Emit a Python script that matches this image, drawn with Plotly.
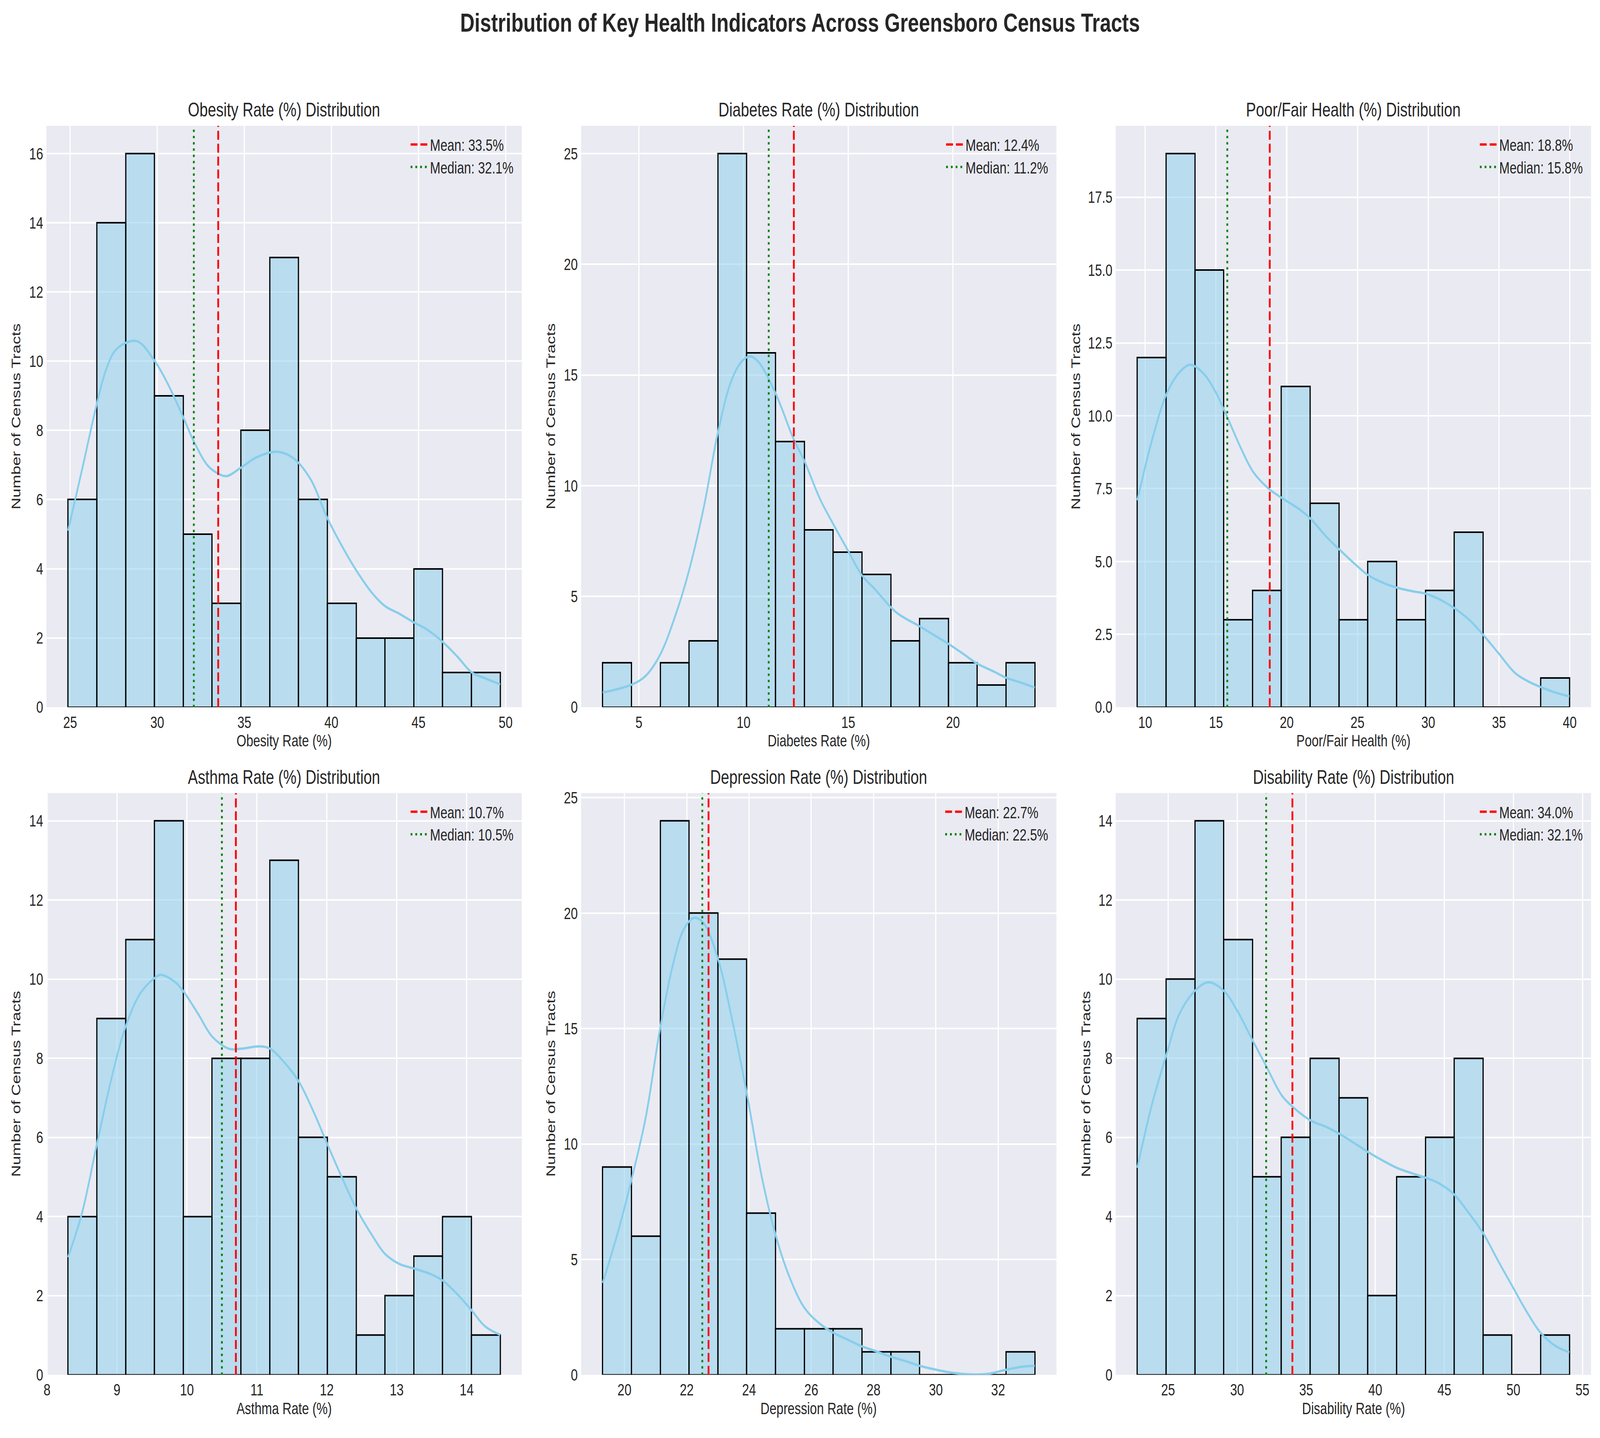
import numpy as np
import plotly.graph_objects as go

# ---------------- data ----------------
indicators = ["Obesity Rate (%)", "Diabetes Rate (%)", "Poor/Fair Health (%)",
              "Asthma Rate (%)", "Depression Rate (%)", "Disability Rate (%)"]

# data min / max (histogram range, 15 bins each)
obesity_range = [24.88, 49.69]
diabetes_range = [3.27, 23.91]
poorfair_range = [9.44, 39.98]
asthma_range = [8.30, 14.48]
depression_range = [19.30, 33.18]
disability_range = [22.77, 54.06]

obesity_counts = [6, 14, 16, 9, 5, 3, 8, 13, 6, 3, 2, 2, 4, 1, 1]
diabetes_counts = [2, 0, 2, 3, 25, 16, 12, 8, 7, 6, 3, 4, 2, 1, 2]
poorfair_counts = [12, 19, 15, 3, 4, 11, 7, 3, 5, 3, 4, 6, 0, 0, 1]
asthma_counts = [4, 9, 11, 14, 4, 8, 8, 13, 6, 5, 1, 2, 3, 4, 1]
depression_counts = [9, 6, 24, 20, 18, 7, 2, 2, 2, 1, 1, 0, 0, 0, 1]
disability_counts = [9, 10, 14, 11, 5, 6, 8, 7, 2, 5, 6, 8, 1, 0, 1]

means = [33.5, 12.4, 18.8, 10.7, 22.7, 34.0]
medians = [32.1, 11.2, 15.8, 10.5, 22.5, 32.1]

# KDE curves (scaled to counts)
obesity_kde_x = [24.88, 25.7, 26.5, 27.06, 27.65, 28.82, 29.86, 30.6, 31.5, 32.1, 32.9, 33.5, 34.0,
                 34.8, 35.7, 36.9, 37.8, 38.8, 39.76, 40.8, 41.43, 42.35, 43.08, 43.9, 44.7, 45.5,
                 46.4, 47.25, 48.04, 48.8, 49.69]
obesity_kde_y = [5.1, 6.9, 8.7, 9.75, 10.34, 10.58, 10.0, 9.35, 8.37, 7.68, 6.98, 6.75, 6.68,
                 6.92, 7.22, 7.38, 7.2, 6.59, 5.47, 4.48, 3.95, 3.29, 2.92, 2.70, 2.46, 2.24,
                 1.88, 1.45, 1.01, 0.84, 0.66]

diabetes_kde_x = [3.27, 4.66, 5.33, 6.03, 6.8, 7.4, 8.1, 8.78, 9.4, 9.9, 10.3, 10.7, 11.54, 12.37,
                  12.91, 13.65, 14.28, 14.95, 15.65, 16.26, 17.28, 18.41, 19.19, 19.78, 20.5,
                  21.15, 21.97, 22.54, 23.27, 23.91]
diabetes_kde_y = [0.66, 1.02, 1.42, 2.40, 4.30, 6.19, 9.03, 12.43, 14.7, 15.6, 15.84, 15.6, 14.14,
                  12.15, 11.1, 9.4, 8.27, 7.13, 5.96, 5.34, 4.29, 3.65, 3.2, 2.86, 2.4, 1.97,
                  1.6, 1.33, 1.1, 0.89]

poorfair_kde_x = [9.44, 10.48, 11.5, 12.42, 13.19, 14.1, 14.98, 15.8, 16.78, 17.62, 18.7, 19.65,
                  20.9, 21.7, 22.8, 23.7, 24.8, 25.75, 26.8, 27.8, 28.87, 29.84, 30.8, 31.84,
                  33.0, 33.9, 34.97, 36.12, 37.0, 38.0, 39.0, 39.98]
poorfair_kde_y = [7.10, 9.16, 10.74, 11.49, 11.75, 11.46, 10.81, 9.95, 8.87, 8.08, 7.51, 7.18,
                  6.79, 6.46, 5.85, 5.42, 4.92, 4.53, 4.27, 4.10, 3.98, 3.89, 3.7, 3.40,
                  2.95, 2.47, 1.85, 1.18, 0.9, 0.68, 0.50, 0.37]

asthma_kde_x = [8.30, 8.50, 8.71, 8.94, 9.12, 9.33, 9.54, 9.62, 9.82, 9.95, 10.16, 10.36, 10.6,
                10.77, 11.04, 11.19, 11.38, 11.6, 11.82, 12.0, 12.21, 12.42, 12.65, 12.83, 13.04,
                13.24, 13.48, 13.66, 13.87, 14.07, 14.26, 14.48]
asthma_kde_y = [2.97, 4.09, 5.81, 7.63, 8.78, 9.63, 10.03, 10.11, 9.94, 9.69, 9.12, 8.55, 8.24,
                8.24, 8.30, 8.24, 7.92, 7.41, 6.61, 5.86, 5.01, 4.21, 3.52, 3.06, 2.80,
                2.69, 2.55, 2.38, 2.03, 1.63, 1.23, 1.01]

depression_kde_x = [19.30, 19.8, 20.23, 20.68, 21.15, 21.56, 21.89, 22.22, 22.55, 23.01, 23.42,
                    23.94, 24.41, 24.86, 25.29, 25.78, 26.28, 26.71, 27.16, 27.63, 28.04, 28.56,
                    29.13, 29.48, 30.01, 30.56, 31.1, 31.67, 32.26, 32.76, 33.18]
depression_kde_y = [3.98, 6.23, 8.48, 11.13, 15.05, 17.79, 19.26, 19.79, 19.55, 17.99, 15.63,
                    12.11, 8.58, 6.03, 4.27, 2.90, 2.21, 1.82, 1.53, 1.23, 1.04, 0.78,
                    0.55, 0.39, 0.22, 0.08, 0.02, 0.04, 0.22, 0.35, 0.39]

disability_kde_x = [22.77, 23.83, 24.88, 25.82, 26.96, 27.93, 29.07, 30.04, 31.15, 32.09, 33.23,
                    34.0, 35.31, 36.48, 37.4, 38.46, 39.48, 40.57, 41.56, 42.68, 43.65, 44.66,
                    45.73, 46.77, 47.81, 48.88, 49.89, 50.99, 51.98, 53.09, 54.06]
disability_kde_y = [5.23, 6.83, 8.09, 9.12, 9.71, 9.92, 9.69, 9.18, 8.43, 7.81, 7.06,
                    6.78, 6.43, 6.26, 6.09, 5.86, 5.63, 5.41, 5.23, 5.09, 4.98, 4.83,
                    4.55, 4.09, 3.58, 2.89, 2.26, 1.58, 1.06, 0.72, 0.57]

x_tick_steps = [5, 5, 5, 1, 2, 5]
y_tick_steps = [2, 5, 2.5, 2, 5, 2]
y_tick_formats = ["d", "d", ".1f", "d", "d", "d"]

ranges = [obesity_range, diabetes_range, poorfair_range, asthma_range, depression_range, disability_range]
counts = [obesity_counts, diabetes_counts, poorfair_counts, asthma_counts, depression_counts, disability_counts]
kde_x = [obesity_kde_x, diabetes_kde_x, poorfair_kde_x, asthma_kde_x, depression_kde_x, disability_kde_x]
kde_y = [obesity_kde_y, diabetes_kde_y, poorfair_kde_y, asthma_kde_y, depression_kde_y, disability_kde_y]

# ---------------- layout geometry ----------------
W, H = 5365, 3680
col_px = [(146, 1743), (1942, 3539), (3738, 5335)]
row_px = [(314, 1816), (2038, 3541)]
ylabel_offsets = [102, 102, 134, 102, 102, 100]

FONT = "Liberation Sans, Arial, Helvetica, sans-serif"
TXT = "#262626"
BAR_FILL = "rgba(135,206,235,0.5)"
KDE_COLOR = "#87CEEB"

fig = go.Figure()
annotations = []
layout_axes = {}

for i, name in enumerate(indicators):
    r, c = divmod(i, 3)
    n = "" if i == 0 else str(i + 1)
    xa, ya = "x" + n, "y" + n
    lg = "legend" + n

    lo, hi = ranges[i]
    cnt = np.array(counts[i])
    edges = np.linspace(lo, hi, len(cnt) + 1)
    centers = (edges[:-1] + edges[1:]) / 2
    width = edges[1] - edges[0]

    fig.add_trace(go.Bar(
        x=centers, y=cnt, width=width, xaxis=xa, yaxis=ya,
        marker=dict(color=BAR_FILL, line=dict(color="black", width=4)),
        showlegend=False, hoverinfo="x+y"))

    # empty bins still show their (zero-height) outline along the baseline
    zx, zy = [], []
    for k in np.where(cnt == 0)[0]:
        zx += [edges[k], edges[k + 1], None]
        zy += [0, 0, None]
    if zx:
        fig.add_trace(go.Scatter(
            x=zx, y=zy, mode="lines", xaxis=xa, yaxis=ya, cliponaxis=False,
            line=dict(color="black", width=4), showlegend=False, hoverinfo="skip"))

    fig.add_trace(go.Scatter(
        x=kde_x[i], y=kde_y[i], mode="lines", xaxis=xa, yaxis=ya,
        line=dict(color=KDE_COLOR, width=6, shape="spline"), showlegend=False))

    ymax = 1.05 * max(counts[i])
    fig.add_trace(go.Scatter(
        x=[means[i], means[i]], y=[0, ymax], mode="lines", xaxis=xa, yaxis=ya,
        line=dict(color="red", width=6, dash="23px,10px"),
        name=f"Mean: {means[i]:.1f}%", legend=lg))
    fig.add_trace(go.Scatter(
        x=[medians[i], medians[i]], y=[0, ymax], mode="lines", xaxis=xa, yaxis=ya,
        line=dict(color="green", width=6, dash="6px,10px"),
        name=f"Median: {medians[i]:.1f}%", legend=lg))

    l, rr = col_px[c]
    t, b = row_px[r]
    span = hi - lo
    layout_axes["xaxis" + n] = dict(
        domain=[l / W, rr / W], anchor=ya, range=[lo - 0.05 * span, hi + 0.05 * span],
        dtick=x_tick_steps[i], tick0=0, showgrid=True, gridcolor="white", gridwidth=4,
        zeroline=False, showline=False, ticks="", tickfont=dict(size=42, color=TXT, family=FONT),
        ticklabelstandoff=10)
    layout_axes["yaxis" + n] = dict(
        domain=[1 - b / H, 1 - t / H], anchor=xa, range=[0, ymax],
        dtick=y_tick_steps[i], tick0=0, tickformat=y_tick_formats[i],
        showgrid=True, gridcolor="white", gridwidth=4,
        zeroline=False, showline=False, ticks="", tickfont=dict(size=42, color=TXT, family=FONT),
        ticklabelstandoff=10)
    layout_axes[lg] = dict(
        x=(rr - 22) / W, y=1 - (t + 14) / H, xanchor="right", yanchor="top",
        bgcolor="rgba(0,0,0,0)", font=dict(size=42, color=TXT, family=FONT),
        itemwidth=60, tracegroupgap=0)

    # subplot title
    annotations.append(dict(
        text=f"{name} Distribution",
        x=(l + rr) / 2 / W, y=1 - t / H, xref="paper", yref="paper",
        xanchor="center", yanchor="middle", yshift=41, showarrow=False,
        font=dict(size=50, color=TXT, family=FONT)))
    # x label
    annotations.append(dict(
        text=name, x=(l + rr) / 2 / W, y=1 - b / H, xref="paper", yref="paper",
        xanchor="center", yanchor="middle", yshift=-86, showarrow=False,
        font=dict(size=42, color=TXT, family=FONT)))
    # y label
    annotations.append(dict(
        text="Number of Census Tracts", x=(l - ylabel_offsets[i]) / W, y=1 - (t + b) / 2 / H,
        xref="paper", yref="paper", xanchor="center", yanchor="middle", textangle=-90,
        showarrow=False, font=dict(size=42, color=TXT, family=FONT)))

fig.update_layout(
    width=W, height=H, margin=dict(l=0, r=0, t=0, b=0),
    paper_bgcolor="white", plot_bgcolor="#EAEAF2",
    title=dict(text="<b>Distribution of Key Health Indicators Across Greensboro Census Tracts</b>",
               x=0.5, xanchor="center", y=1 - 58 / H, yanchor="middle",
               font=dict(size=67, color=TXT, family=FONT)),
    barmode="overlay", bargap=0,
    annotations=annotations,
    font=dict(family=FONT, color=TXT),
    **layout_axes)

# fit the fixed-size figure exactly into whatever viewport the browser gives
fit_script = """
(function(){
  var gd = document.getElementById('{plot_id}');
  var de = document.documentElement, b = document.body;
  de.style.margin = '0'; de.style.padding = '0'; de.style.overflow = 'hidden';
  b.style.margin = '0'; b.style.padding = '0'; b.style.overflow = 'hidden';
  var vw = window.innerWidth, vh = window.innerHeight;
  var sx = vw / %d, sy = vh / %d;
  var wrap = gd.parentElement;
  wrap.style.width = vw + 'px';
  wrap.style.height = vh + 'px';
  wrap.style.overflow = 'hidden';
  wrap.style.margin = '0';
  gd.style.transformOrigin = '0 0';
  gd.style.transform = 'scale(' + sx + ',' + sy + ')';
})();
""" % (W, H)

fig.write_html("out.html", post_script=fit_script, config={"displayModeBar": False})
